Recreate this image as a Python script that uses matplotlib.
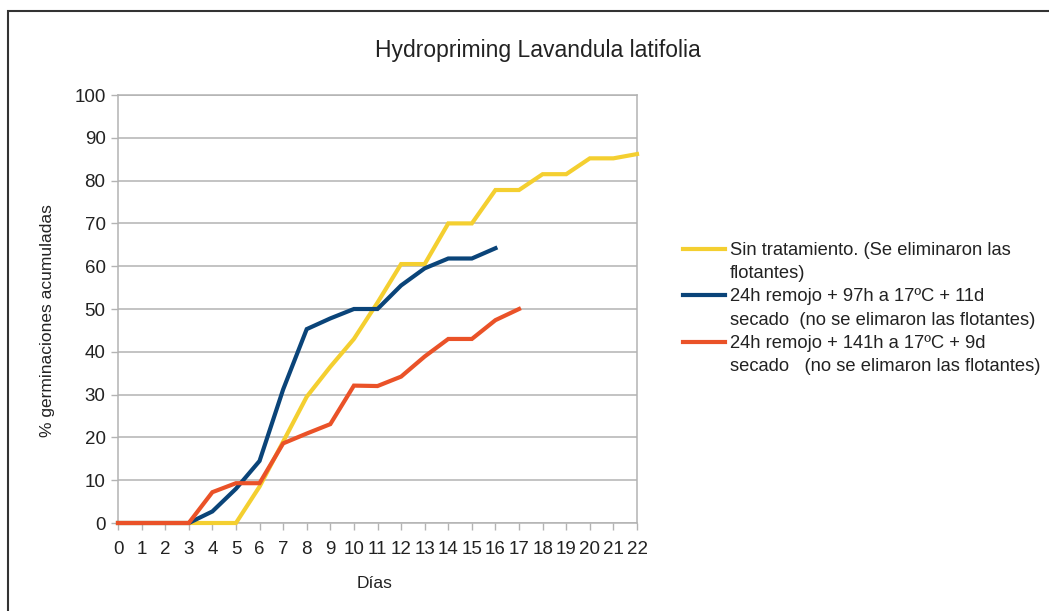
import matplotlib
matplotlib.use("Agg")
import matplotlib.pyplot as plt
from matplotlib.lines import Line2D
from matplotlib.patches import Rectangle

plt.rcParams['font.family'] = ['Liberation Sans', 'DejaVu Sans']

# -----------------------------
# DATA
# -----------------------------
dias = list(range(0, 23))

sin_tratamiento = [0, 0, 0, 0, 0, 0, 8.5, 19, 29.5, 36.5, 43, 51.5, 60.5, 60.5,
                   70, 70, 77.8, 77.8, 81.5, 81.5, 85.2, 85.2, 86.2]
remojo_97h = [0, 0, 0, 0, 2.7, 8, 14.5, 31.2, 45.3, 47.8, 50, 50, 55.5, 59.5,
              61.8, 61.8, 64.2]
remojo_141h = [0, 0, 0, 0, 7.2, 9.3, 9.3, 18.6, 20.9, 23.1, 32.1, 32, 34.2, 38.9,
               43, 43, 47.4, 50]

labels = [
    ("Sin tratamiento. (Se eliminaron las", "flotantes)"),
    ("24h remojo + 97h a 17ºC + 11d", "secado  (no se elimaron las flotantes)"),
    ("24h remojo + 141h a 17ºC + 9d", "secado   (no se elimaron las flotantes)"),
]
colors = ["#f4cf30", "#0a4479", "#ea5228"]

W, H = 1049, 611
fig = plt.figure(figsize=(W / 100, H / 100), dpi=100)
ax = fig.add_axes([118 / W, 1 - 523 / H, (637 - 118) / W, (523 - 95) / H])

series = [sin_tratamiento, remojo_97h, remojo_141h]
for vals, c in zip(series, colors):
    ax.plot(dias[:len(vals)], vals, color=c, lw=3.0, solid_joinstyle="miter",
            clip_on=False, zorder=3)

ax.set_xlim(0, 22)
ax.set_ylim(0, 100)
ax.set_xticks(dias)
ax.set_yticks(range(0, 101, 10))
ax.yaxis.grid(True, color="#b3b3b3", lw=1.1)
ax.set_axisbelow(True)
for s in ax.spines.values():
    s.set_color("#b3b3b3")
    s.set_linewidth(1.1)
ax.tick_params(axis="both", colors="#b3b3b3", length=5, width=1.0,
               labelcolor="#222222", labelsize=13.5)
ax.tick_params(axis="y", pad=4)
ax.tick_params(axis="x", pad=8)

# -----------------------------
# TEXTS
# -----------------------------
txt = "#222222"
fig.text(538 / W, 1 - 50 / H, "Hydropriming Lavandula latifolia", fontsize=16.5,
         color=txt, ha="center", va="center")
fig.text(375 / W, 1 - 583 / H, "Días", fontsize=12.5, color=txt, ha="center", va="center")
fig.text(48 / W, 1 - 321 / H, "% germinaciones acumuladas", fontsize=12.5, color=txt,
         ha="center", va="center", rotation=90)

# legend: one row per text line, handle only on first line
handles = []
texts = []
for (l1, l2), c in zip(labels, colors):
    handles.append(Line2D([], [], color=c, lw=3.0))
    texts.append(l1)
    handles.append(Line2D([], [], color="none"))
    texts.append(l2)
leg = fig.legend(handles, texts, loc="upper left", bbox_to_anchor=(683 / W, 1 - 242 / H),
                 frameon=False, fontsize=13.2, handlelength=2.3, handletextpad=0.25,
                 labelspacing=0.34, borderpad=0, borderaxespad=0)
for t in leg.get_texts():
    t.set_color(txt)

# figure border
fig.add_artist(Rectangle((8 / W, -0.05), 1.1, 1 - 11 / H + 0.05, transform=fig.transFigure,
                         fill=False, edgecolor="#333333", lw=1.5))

fig.savefig("out.png", dpi=100)
